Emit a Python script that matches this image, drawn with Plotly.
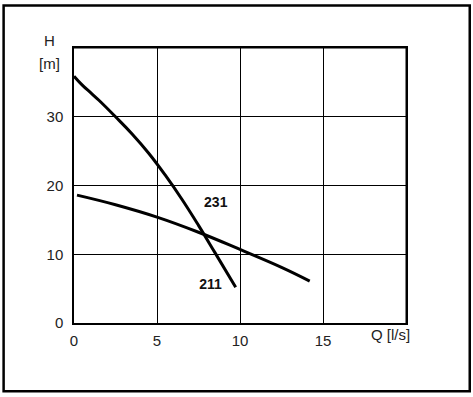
import plotly.graph_objects as go

# Steep curve (Q in l/s, H in m)
q_steep = [0.0, 0.5, 1.0, 1.5, 2.5, 3.5, 4.5, 5.5, 6.5, 7.5, 8.5, 9.74]
h_steep = [35.9, 34.6, 33.5, 32.4, 30.0, 27.5, 24.7, 21.5, 18.0, 14.2, 10.2, 5.2]

# Flat curve
q_flat = [0.18, 2.5, 5.0, 7.5, 10.0, 12.5, 14.2]
h_flat = [18.6, 17.2, 15.4, 13.2, 10.7, 8.1, 6.1]

x_ticks = [0, 5, 10, 15]
y_ticks = [0, 10, 20, 30]
labels = ["231", "211"]
label_q = [8.54, 8.23]
label_h = [17.4, 5.4]

fig = go.Figure()
for q, h in [(q_steep, h_steep), (q_flat, h_flat)]:
    fig.add_trace(go.Scatter(x=q, y=h, mode="lines",
                             line=dict(color="black", width=3, shape="spline", smoothing=1.2),
                             showlegend=False, hoverinfo="skip"))

fig.add_trace(go.Scatter(x=label_q, y=label_h, mode="text", text=["<b>%s</b>" % t for t in labels],
                         textfont=dict(family="Liberation Sans, Arial", size=14, color="#111"),
                         textposition="middle center", showlegend=False, hoverinfo="skip"))

font = dict(family="Liberation Sans, Arial", size=15, color="#222")
fig.update_layout(
    width=473, height=397,
    margin=dict(l=74, r=67, t=48, b=74),
    paper_bgcolor="white", plot_bgcolor="white",
    font=font,
    xaxis=dict(range=[0, 20], tickvals=x_ticks, showgrid=True, gridcolor="black", gridwidth=1,
               zeroline=False, showline=True, linecolor="black", linewidth=1.5, mirror=True,
               ticks="", ticklabelstandoff=3, tickfont=font, fixedrange=True),
    yaxis=dict(range=[0, 40], tickvals=y_ticks, showgrid=True, gridcolor="black", gridwidth=1,
               zeroline=False, showline=True, linecolor="black", linewidth=1.5, mirror=True,
               ticks="", ticklabelstandoff=6, tickfont=font, fixedrange=True),
    shapes=[
        dict(type="line", xref="x", yref="paper", x0=20, x1=20, y0=0, y1=1, line=dict(color="black", width=1)),
        dict(type="line", xref="paper", yref="y", x0=0, x1=1, y0=40, y1=40, line=dict(color="black", width=1)),
        dict(type="rect", xref="paper", yref="paper", x0=-0.212, x1=1.192, y0=-0.248, y1=1.155,
             line=dict(color="black", width=2.5)),
    ],
    annotations=[
        dict(text="H", xref="paper", yref="paper", x=-0.073, y=1.0, xanchor="center", yanchor="bottom",
             showarrow=False, font=font, yshift=-3),
        dict(text="[m]", xref="paper", yref="paper", x=-0.073, y=1.0, xanchor="center", yanchor="top",
             showarrow=False, font=font, yshift=-5),
        dict(text="Q [l/s]", xref="paper", yref="paper", x=1.0, y=0, xanchor="center", yanchor="top",
             showarrow=False, font=font, xshift=-16, yshift=-1),
    ],
)

fig.write_html("out.html", config={"displayModeBar": False},
               post_script="document.body.style.margin='0px';")
